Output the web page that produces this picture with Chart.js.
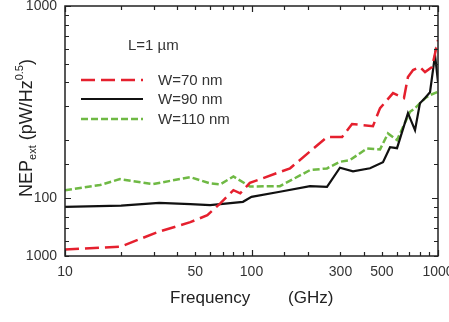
<!DOCTYPE html>
<html>
<head>
<meta charset="utf-8">
<title>NEP vs frequency</title>
<script src="https://cdn.jsdelivr.net/npm/chart.js@4.4.1/dist/chart.umd.min.js"></script>
<style>
  html, body { margin: 0; padding: 0; background: #fff; }
  canvas { display: block; }
</style>
</head>
<body>
<canvas id="nepChart" width="449" height="322"></canvas>
<script>
// W = 70 nm
const FREQ_70 = [10, 20, 26, 32, 47, 58, 68, 80, 87, 98, 115, 161, 254, 306, 346, 448, 489, 574, 657, 690, 735, 800, 852, 929, 1000];
const NEP_70 = [54, 56, 62, 67, 75, 81.5, 94, 110, 106, 120, 127, 143, 208, 208, 243, 237, 294, 352, 332, 427, 464, 481, 453, 481, 665];

// W = 90 nm
const FREQ_90 = [10, 20, 32, 47, 60, 90, 100, 142, 206, 254, 298, 350, 432, 507, 553, 603, 690, 753, 800, 852, 906, 964, 1000];
const NEP_90 = [90, 91.5, 94.5, 93, 92, 95.7, 101.6, 108, 115.5, 114.5, 144, 138, 143, 154, 184, 182, 277, 226, 312, 332, 356, 556, 402];

// W = 110 nm
const FREQ_110 = [10, 15.4, 19.7, 29.6, 46.8, 60, 68, 80, 98, 142, 206, 254, 298, 337, 416, 489, 539, 603, 708, 753, 852, 906, 1000];
const NEP_110 = [110, 117, 125.6, 118.3, 128.7, 119.3, 118, 129.7, 115, 115.5, 140, 142.8, 154.6, 157.7, 181.5, 179.4, 217, 200.5, 281.6, 294, 331, 344, 358];

const SERIES_LABELS = ['W=70 nm', 'W=90 nm', 'W=110 nm'];
const X_TICK_VALUES = [10, 50, 100, 300, 500, 1000];
const Y_TICK_VALUES = [50, 100, 1000];
const Y_TICK_TEXT = ['1000', '100', '1000'];

const FONT = "'Liberation Sans', Arial, sans-serif";
const TEXT_COLOR = '#333';

function toPoints(freqs, values) {
    return freqs.map((f, i) => ({ x: f, y: values[i] }));
}

function isDecade(v) {
    const e = Math.log10(v);
    return Math.abs(e - Math.round(e)) < 1e-6;
}

// box around the plot area, ticks pointing inwards on every side
const framePlugin = {
    id: 'frame',
    afterDatasetsDraw(chart) {
        const { ctx, chartArea: a, scales } = chart;
        ctx.save();
        ctx.strokeStyle = '#222';
        ctx.lineWidth = 1.5;
        ctx.strokeRect(a.left, a.top, a.right - a.left, a.bottom - a.top);
        ctx.lineWidth = 1.2;
        ctx.beginPath();
        scales.x.ticks.forEach(t => {
            const px = Math.round(scales.x.getPixelForValue(t.value)) + 0.5;
            const len = isDecade(t.value) ? 6 : 4;
            ctx.moveTo(px, a.bottom); ctx.lineTo(px, a.bottom - len);
            ctx.moveTo(px, a.top); ctx.lineTo(px, a.top + len);
        });
        scales.y.ticks.forEach(t => {
            const py = Math.round(scales.y.getPixelForValue(t.value)) + 0.5;
            const len = isDecade(t.value) ? 6 : 4;
            ctx.moveTo(a.left, py); ctx.lineTo(a.left + len, py);
            ctx.moveTo(a.right, py); ctx.lineTo(a.right - len, py);
        });
        ctx.stroke();
        ctx.restore();
    }
};

// legend block inside the plot plus the "L=1 µm" note
const legendPlugin = {
    id: 'insideLegend',
    afterDatasetsDraw(chart) {
        const { ctx } = chart;
        const rows = [80, 99, 119];
        ctx.save();
        ctx.font = `15px ${FONT}`;
        ctx.fillStyle = TEXT_COLOR;
        ctx.textBaseline = 'middle';
        ctx.fillText('L=1 µm', 128, 46);
        chart.data.datasets.forEach((ds, i) => {
            const y = rows[i];
            ctx.save();
            ctx.strokeStyle = ds.borderColor;
            ctx.lineWidth = ds.borderWidth;
            ctx.setLineDash(ds.borderDash || []);
            ctx.beginPath();
            ctx.moveTo(81, y);
            ctx.lineTo(143, y);
            ctx.stroke();
            ctx.restore();
            ctx.fillText(ds.label, 158, y + 1);
        });
        ctx.restore();
    }
};

// axis titles (y title has subscript and superscript parts)
const titlesPlugin = {
    id: 'axisTitles',
    afterDraw(chart) {
        const { ctx } = chart;
        ctx.save();
        ctx.fillStyle = '#222';
        ctx.textBaseline = 'alphabetic';
        ctx.font = `17px ${FONT}`;
        ctx.fillText('Frequency', 170, 303);
        ctx.fillText('(GHz)', 288, 303);

        ctx.translate(32, 197);
        ctx.rotate(-Math.PI / 2);
        let x = 0;
        const parts = [
            { t: 'NEP', size: 18, dy: 0 },
            { t: 'ext', size: 11, dy: 4 },
            { t: ' (pW/Hz', size: 18, dy: 0 },
            { t: '0.5', size: 11, dy: -9 },
            { t: ')', size: 18, dy: 0 }
        ];
        parts.forEach(p => {
            ctx.font = `${p.size}px ${FONT}`;
            ctx.fillText(p.t, x, p.dy);
            x += ctx.measureText(p.t).width;
        });
        ctx.restore();
    }
};

const ctx = document.getElementById('nepChart').getContext('2d');

new Chart(ctx, {
    type: 'line',
    data: {
        datasets: [
            {
                label: SERIES_LABELS[0],
                data: toPoints(FREQ_70, NEP_70),
                borderColor: '#e5202e',
                borderWidth: 2.5,
                borderDash: [14, 6]
            },
            {
                label: SERIES_LABELS[1],
                data: toPoints(FREQ_90, NEP_90),
                borderColor: '#111',
                borderWidth: 2.2,
                borderDash: []
            },
            {
                label: SERIES_LABELS[2],
                data: toPoints(FREQ_110, NEP_110),
                borderColor: '#6fb944',
                borderWidth: 2.5,
                borderDash: [7, 3]
            }
        ]
    },
    options: {
        responsive: false,
        animation: false,
        devicePixelRatio: 1,
        layout: { padding: { top: 6, right: 11, left: 0, bottom: 0 } },
        elements: {
            point: { radius: 0 },
            line: { tension: 0, borderCapStyle: 'butt', fill: false }
        },
        plugins: {
            legend: { display: false },
            tooltip: { enabled: false }
        },
        scales: {
            x: {
                type: 'logarithmic',
                min: 10,
                max: 1000,
                grid: { display: false, drawTicks: false },
                border: { display: false },
                ticks: {
                    autoSkip: false,
                    maxRotation: 0,
                    padding: 8,
                    color: TEXT_COLOR,
                    font: { family: FONT, size: 14 },
                    callback: (v) => X_TICK_VALUES.includes(v) ? String(v) : ''
                },
                afterFit(s) {
                    s.height = 66;
                    s.paddingLeft = 0;
                    s.paddingRight = 0;
                }
            },
            y: {
                type: 'logarithmic',
                min: 50,
                max: 1000,
                grid: { display: false, drawTicks: false },
                border: { display: false },
                ticks: {
                    autoSkip: false,
                    padding: 8,
                    color: TEXT_COLOR,
                    font: { family: FONT, size: 14 },
                    callback: (v) => {
                        const i = Y_TICK_VALUES.indexOf(v);
                        return i >= 0 ? Y_TICK_TEXT[i] : '';
                    }
                },
                afterFit(s) {
                    s.width = 65;
                    s.paddingTop = 0;
                    s.paddingBottom = 0;
                }
            }
        }
    },
    plugins: [framePlugin, legendPlugin, titlesPlugin]
});
</script>
</body>
</html>
